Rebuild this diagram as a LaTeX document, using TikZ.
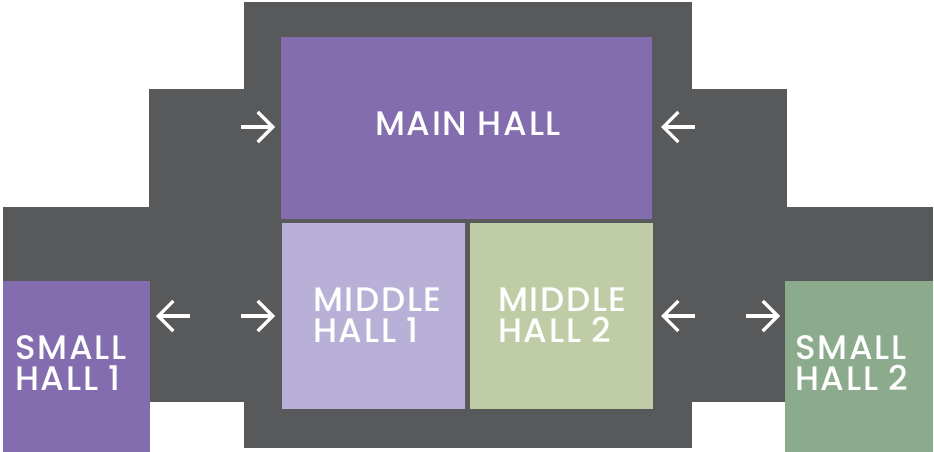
\documentclass[tikz,border=0pt]{standalone}
\usepackage{fontspec}
\IfFontExistsTF{Poppins Medium}
  {\setmainfont{Poppins Medium}[LetterSpace=5]}
  {\setmainfont{Poppins}[FakeBold=1.2,LetterSpace=6]}
\usetikzlibrary{arrows.meta}
\definecolor{darkbg}{HTML}{58595B}
\definecolor{mainpurple}{HTML}{836DAE}
\definecolor{lavender}{HTML}{B8B0D6}
\definecolor{sage}{HTML}{BFCCA6}
\definecolor{smallgreen}{HTML}{8CAB8D}
\tikzset{
  halllabel/.style={text=white, font=\fontsize{34}{31}\selectfont, align=left, inner sep=0pt},
  arr/.style={draw=white, line width=3.2pt, -{Straight Barb[length=15pt,width=30pt]}}
}
\begin{document}
\begin{tikzpicture}[x=1pt,y=-1pt]
\useasboundingbox (0,0) rectangle (934,452);
% dark background
\fill[darkbg] (244,2) rectangle (692,448);
\fill[darkbg] (149,89) rectangle (787,402);
\fill[darkbg] (3,207) rectangle (933,281);
% halls
\fill[mainpurple] (281,37) rectangle (652,219);
\fill[lavender] (282,223) rectangle (465,409);
\fill[sage] (470,223) rectangle (653,409);
\fill[mainpurple] (3,281) rectangle (150,452);
\fill[smallgreen] (785,281) rectangle (933,452);
% labels
\node[halllabel, anchor=base] (main) at (468,135) {MAIN HALL};
\node[halllabel, anchor=west] (mid1) at (313,315) {MIDDLE\\HALL 1};
\node[halllabel, anchor=west] (mid2) at (498,315) {MIDDLE\\HALL 2};
\node[halllabel, anchor=west] (small1) at (15,363) {SMALL\\HALL 1};
\node[halllabel, anchor=west] (small2) at (795,363) {SMALL\\HALL 2};
% arrows
\coordinate (a1s) at (241,127); \coordinate (a1e) at (275,127);
\coordinate (a2s) at (695,127); \coordinate (a2e) at (661,127);
\coordinate (a3s) at (190,316); \coordinate (a3e) at (156,316);
\coordinate (a4s) at (241,316); \coordinate (a4e) at (275,316);
\coordinate (a5s) at (695,316); \coordinate (a5e) at (661,316);
\coordinate (a6s) at (746,316); \coordinate (a6e) at (780,316);
\draw[arr] (a1s) -- (a1e);
\draw[arr] (a2s) -- (a2e);
\draw[arr] (a3s) -- (a3e);
\draw[arr] (a4s) -- (a4e);
\draw[arr] (a5s) -- (a5e);
\draw[arr] (a6s) -- (a6e);
\end{tikzpicture}
\end{document}
